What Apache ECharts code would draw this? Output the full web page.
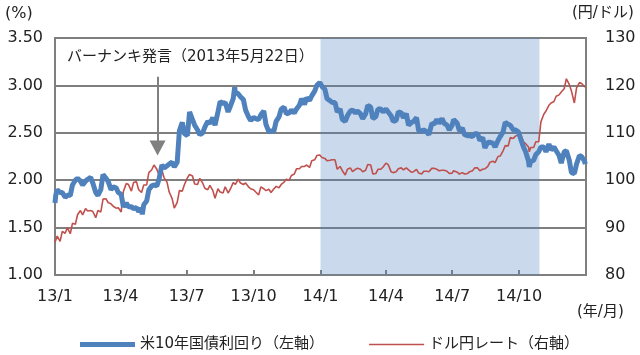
<!DOCTYPE html>
<html><head><meta charset="utf-8">
<script src="https://cdn.jsdelivr.net/npm/echarts@6/dist/echarts.min.js"></script>
<style>html,body{margin:0;padding:0;background:#fff}#c{width:640px;height:355px}</style>
</head><body><div id="c"></div>
<script>
// ---- data ----
const dates = [
 '2013-01-01','2013-01-02','2013-01-04','2013-01-08','2013-01-11','2013-01-15','2013-01-18','2013-01-22','2013-01-25','2013-01-29',
 '2013-02-01','2013-02-05','2013-02-08','2013-02-12','2013-02-15','2013-02-19','2013-02-22','2013-02-26',
 '2013-03-01','2013-03-05','2013-03-08','2013-03-12','2013-03-15','2013-03-19','2013-03-22','2013-03-26','2013-03-29',
 '2013-04-02','2013-04-05','2013-04-09','2013-04-12','2013-04-16','2013-04-19','2013-04-23','2013-04-26','2013-04-30',
 '2013-05-01','2013-05-03','2013-05-07','2013-05-10','2013-05-14','2013-05-17','2013-05-21','2013-05-24','2013-05-28','2013-05-31',
 '2013-06-04','2013-06-07','2013-06-11','2013-06-14','2013-06-18','2013-06-21','2013-06-25','2013-06-28',
 '2013-07-02','2013-07-05','2013-07-09','2013-07-12','2013-07-16','2013-07-19','2013-07-23','2013-07-26','2013-07-30',
 '2013-08-02','2013-08-06','2013-08-09','2013-08-13','2013-08-16','2013-08-20','2013-08-23','2013-08-27','2013-08-30',
 '2013-09-03','2013-09-05','2013-09-06','2013-09-10','2013-09-13','2013-09-17','2013-09-20','2013-09-24','2013-09-27',
 '2013-10-01','2013-10-04','2013-10-08','2013-10-11','2013-10-15','2013-10-18','2013-10-22','2013-10-25','2013-10-29',
 '2013-11-01','2013-11-05','2013-11-08','2013-11-12','2013-11-15','2013-11-19','2013-11-22','2013-11-26','2013-11-29',
 '2013-12-03','2013-12-06','2013-12-10','2013-12-13','2013-12-17','2013-12-20','2013-12-24','2013-12-27','2013-12-31',
 '2014-01-03','2014-01-07','2014-01-10','2014-01-14','2014-01-17','2014-01-21','2014-01-24','2014-01-28','2014-01-31',
 '2014-02-04','2014-02-07','2014-02-11','2014-02-14','2014-02-18','2014-02-21','2014-02-25','2014-02-28',
 '2014-03-04','2014-03-07','2014-03-11','2014-03-14','2014-03-18','2014-03-21','2014-03-25','2014-03-28',
 '2014-04-01','2014-04-04','2014-04-08','2014-04-11','2014-04-15','2014-04-18','2014-04-22','2014-04-25','2014-04-29',
 '2014-05-02','2014-05-06','2014-05-09','2014-05-13','2014-05-16','2014-05-20','2014-05-23','2014-05-27','2014-05-30',
 '2014-06-03','2014-06-06','2014-06-10','2014-06-13','2014-06-17','2014-06-20','2014-06-24','2014-06-27',
 '2014-07-01','2014-07-03','2014-07-08','2014-07-11','2014-07-15','2014-07-18','2014-07-22','2014-07-25','2014-07-29',
 '2014-08-01','2014-08-05','2014-08-08','2014-08-12','2014-08-15','2014-08-19','2014-08-22','2014-08-26','2014-08-29',
 '2014-09-02','2014-09-05','2014-09-09','2014-09-12','2014-09-16','2014-09-19','2014-09-23','2014-09-26','2014-09-30',
 '2014-10-03','2014-10-07','2014-10-10','2014-10-14','2014-10-15','2014-10-17','2014-10-21','2014-10-24','2014-10-28','2014-10-31',
 '2014-11-04','2014-11-07','2014-11-11','2014-11-14','2014-11-18','2014-11-21','2014-11-25','2014-11-28',
 '2014-12-02','2014-12-05','2014-12-09','2014-12-12','2014-12-16','2014-12-19','2014-12-23','2014-12-26','2014-12-30','2014-12-31'
];
// US 10-year Treasury yield (%), left axis
const yield10y = [
 1.76,1.84,1.90,1.87,1.87,1.82,1.84,1.84,1.95,2.00,
 2.02,1.99,1.95,1.99,2.01,2.03,1.97,1.87,
 1.84,1.90,2.06,2.02,1.99,1.90,1.93,1.92,1.87,
 1.85,1.72,1.76,1.72,1.72,1.70,1.71,1.67,1.70,
 1.64,1.74,1.78,1.90,1.94,1.95,1.94,2.01,2.16,2.13,
 2.15,2.17,2.19,2.14,2.19,2.52,2.61,2.49,
 2.47,2.72,2.64,2.58,2.53,2.48,2.50,2.56,2.62,
 2.60,2.66,2.58,2.72,2.83,2.81,2.82,2.72,2.78,
 2.86,2.98,2.93,2.91,2.88,2.85,2.74,2.67,2.63,
 2.66,2.65,2.64,2.69,2.73,2.59,2.51,2.52,2.52,
 2.62,2.67,2.75,2.77,2.70,2.71,2.74,2.71,2.75,
 2.79,2.86,2.80,2.87,2.84,2.89,2.94,3.00,3.03,
 2.99,2.96,2.86,2.84,2.82,2.82,2.72,2.75,2.64,
 2.62,2.68,2.73,2.74,2.71,2.73,2.70,2.65,
 2.70,2.79,2.77,2.65,2.67,2.75,2.75,2.72,
 2.75,2.72,2.68,2.62,2.63,2.72,2.71,2.66,2.70,
 2.58,2.61,2.62,2.66,2.52,2.52,2.53,2.51,2.48,
 2.60,2.59,2.64,2.60,2.65,2.60,2.58,2.53,
 2.58,2.64,2.60,2.52,2.55,2.48,2.47,2.47,2.46,
 2.49,2.49,2.42,2.45,2.34,2.40,2.40,2.39,2.35,
 2.42,2.46,2.51,2.61,2.59,2.58,2.53,2.53,2.51,
 2.44,2.35,2.30,2.20,2.14,2.20,2.21,2.27,2.30,2.35,
 2.35,2.30,2.38,2.32,2.35,2.31,2.26,2.18,
 2.30,2.31,2.21,2.08,2.07,2.17,2.26,2.25,2.20,2.17
];
// USD/JPY (yen per dollar), right axis
const usdjpy = [
 86.9,87.2,88.2,87.1,89.2,88.8,90.0,88.7,90.9,90.7,
 92.7,93.6,92.7,94.0,93.5,93.6,93.4,92.1,
 93.6,93.3,96.0,96.1,95.3,95.0,94.5,94.1,94.2,
 93.3,97.6,99.3,99.1,97.7,99.5,99.7,98.0,97.4,
 97.4,99.0,99.0,101.6,102.2,103.2,102.3,101.1,102.1,100.5,
 99.6,97.5,96.1,94.1,95.3,97.8,97.7,99.1,
 100.5,101.2,100.9,99.2,99.1,100.4,99.4,98.3,98.0,
 98.9,97.8,96.2,98.2,97.5,97.3,98.6,97.3,98.1,
 99.5,99.9,99.1,100.2,99.4,99.1,99.4,98.6,98.2,
 98.0,97.5,96.9,98.6,98.2,97.8,98.1,97.4,98.2,
 98.7,98.4,99.1,99.6,100.2,100.0,101.0,101.3,102.4,
 102.4,102.9,102.9,103.2,102.7,104.1,104.3,105.2,105.3,
 104.8,104.6,104.1,104.2,104.3,104.3,102.3,102.9,102.0,
 101.1,102.3,102.6,101.8,102.3,102.5,102.3,101.8,
 102.1,103.3,103.2,101.3,101.4,102.3,102.3,102.8,
 103.6,103.3,101.8,101.6,101.8,102.4,102.6,102.2,102.6,
 102.2,101.7,101.8,102.3,101.5,101.3,101.9,101.9,101.8,
 102.5,102.5,102.3,102.0,102.1,102.1,101.9,101.4,
 101.5,102.0,101.7,101.3,101.6,101.3,101.4,101.8,102.0,
 102.6,102.6,102.0,102.3,102.4,102.9,103.8,104.0,103.7,
 105.0,105.1,106.2,107.3,107.2,109.0,108.8,109.3,109.6,
 109.8,108.1,107.7,107.0,106.0,106.9,106.9,108.1,108.1,112.3,
 113.9,114.6,115.8,116.3,116.6,117.7,118.0,118.6,
 119.3,121.4,120.2,118.8,116.3,119.5,120.6,120.4,119.7,119.8
];
const tickDates = ['2013-01-01','2013-04-01','2013-07-01','2013-10-01','2014-01-01','2014-04-01','2014-07-01','2014-10-01'];
const tickLabels = ['13/1','13/4','13/7','13/10','14/1','14/4','14/7','14/10'];
const axisRange = ['2013-01-01','2015-01-01'];
const shadeRange = ['2014-01-01','2014-10-29'];
const eventDate = '2013-05-22';
const eventText = 'バーナンキ発言（2013年5月22日）';
const seriesNames = ['米10年国債利回り（左軸）','ドル円レート（右軸）'];

// ---- chart ----
const FONT = "'DejaVu Sans','Noto Sans CJK JP',sans-serif";
const ts = s => { const p = s.split('-').map(Number); return Date.UTC(p[0], p[1] - 1, p[2]); };
const tickVals = tickDates.map(ts);
const labelOf = v => { const i = tickVals.indexOf(v); return i >= 0 ? tickLabels[i] : ''; };

const chart = echarts.init(document.getElementById('c'), null, {renderer: 'canvas'});
chart.setOption({
  animation: false,
  textStyle: {fontFamily: FONT, color: '#222'},
  grid: {left: 55, right: 54, top: 38, bottom: 80, show: true, borderColor: '#7f7f7f', borderWidth: 2, backgroundColor: 'transparent'},
  xAxis: {
    type: 'value', min: ts(axisRange[0]), max: ts(axisRange[1]),
    axisLine: {show: true, onZero: false, lineStyle: {color: '#7f7f7f', width: 2}},
    axisTick: {show: true, inside: true, length: 5, customValues: tickVals, lineStyle: {color: '#7f7f7f', width: 2}},
    axisLabel: {customValues: tickVals, formatter: v => labelOf(v), fontSize: 16, margin: 14, color: '#222', fontFamily: FONT},
    splitLine: {show: false}
  },
  yAxis: [
    {type: 'value', min: 1, max: 3.5, interval: 0.5, position: 'left',
     axisLine: {show: false}, axisTick: {show: false},
     axisLabel: {formatter: v => v.toFixed(2), fontSize: 16, margin: 12, color: '#222', fontFamily: FONT},
     splitLine: {show: true, lineStyle: {color: '#7f7f7f', width: 2}}},
    {type: 'value', min: 80, max: 130, interval: 10, position: 'right',
     axisLine: {show: false}, axisTick: {show: false},
     axisLabel: {fontSize: 16, margin: 19, color: '#222', fontFamily: FONT},
     splitLine: {show: false}}
  ],
  legend: {
    left: 75, top: 332, itemWidth: 55, itemHeight: 16, itemGap: 45,
    textStyle: {fontSize: 15, color: '#222', fontFamily: FONT},
    data: [
      {name: seriesNames[0], icon: 'path://M0,0H55V5H0Z', itemStyle: {color: '#4f81bd'}},
      {name: seriesNames[1], icon: 'path://M0,0H55V1.6H0Z', itemStyle: {color: '#c0504d'}}
    ]
  },
  graphic: [
    {type: 'text', left: 5, top: 6, style: {text: '(%)', fill: '#222', font: '16px ' + FONT}},
    {type: 'text', left: 572, top: 6, style: {text: '(円/ドル)', fill: '#222', font: '15px ' + FONT}},
    {type: 'text', left: 577, top: 305, style: {text: '(年/月)', fill: '#222', font: '15px ' + FONT}},
    {type: 'text', left: 67, top: 50, style: {text: eventText, fill: '#222', font: '15px ' + FONT}}
  ],
  series: [
    {type: 'line', name: '_shade', data: [], z: 1, silent: true, yAxisIndex: 0,
     markArea: {silent: true, itemStyle: {color: 'rgba(79,129,189,0.30)'},
       data: [[{xAxis: ts(shadeRange[0])}, {xAxis: ts(shadeRange[1])}]]},
     markLine: {silent: true, symbol: ['none', 'triangle'], symbolSize: [16, 15],
       lineStyle: {color: '#808080', width: 2, type: 'solid'}, label: {show: false},
       data: [[{coord: [ts(eventDate), 3.09]}, {coord: [ts(eventDate), 2.34]}]]}
    },
    {type: 'line', name: seriesNames[1], yAxisIndex: 1, z: 3, symbol: 'none', showSymbol: false,
     lineStyle: {color: '#c0504d', width: 1.6}, itemStyle: {color: '#c0504d'},
     data: dates.map((d, i) => [ts(d), usdjpy[i]])},
    {type: 'line', name: seriesNames[0], yAxisIndex: 0, z: 4, symbol: 'none', showSymbol: false,
     lineStyle: {color: '#4f81bd', width: 5}, itemStyle: {color: '#4f81bd'},
     data: dates.map((d, i) => [ts(d), yield10y[i]])}
  ]
});
</script></body></html>
